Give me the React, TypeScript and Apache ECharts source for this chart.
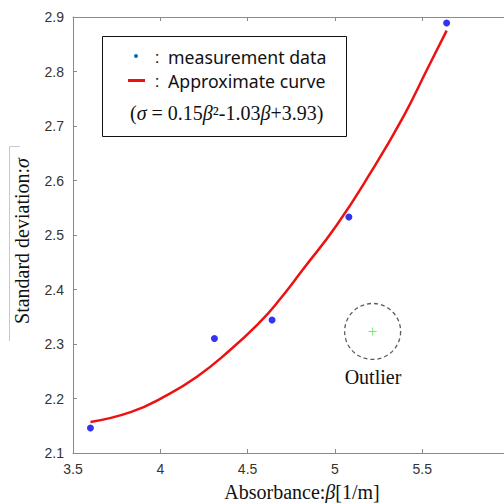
import React, { useEffect, useRef } from "react";
import * as echarts from "echarts";

const measBeta = [3.6, 4.31, 4.64, 5.08, 5.64];
const measSigma = [2.146, 2.31, 2.344, 2.533, 2.889];

const curveBeta = [3.6, 3.83, 4.02, 4.21, 4.4, 4.57, 4.67, 4.82, 5.01, 5.2, 5.39, 5.53, 5.64];
const curveSigma = [2.157, 2.175, 2.203, 2.24, 2.289, 2.34, 2.376, 2.438, 2.518, 2.612, 2.716, 2.805, 2.875];

const outlierBeta = [5.216];
const outlierSigma = [2.323];

const xLabelTitle = "{n|Absorbance:}{i|β}{n|[1/m]}";
const yLabelTitle = "{n|Standard deviation:}{i|σ}";
const legendRow1 = "measurement data";
const legendRow2 = "Approximate curve";
const formulaText = "{n|(}{i|σ}{n| = 0.15}{i|β}{n|²-1.03}{i|β}{n|+3.93)}";
const outlierText = "Outlier";

export default function App() {
  const ref = useRef<HTMLDivElement>(null);
  useEffect(() => {
    if (!ref.current) return;
    const chart = echarts.init(ref.current, null, { renderer: "svg" });
    const axisLineStyle = { color: "#8a8a8a", width: 1 };
    const sans = "Liberation Sans";
    const serif = "Liberation Serif";
    const richSerif = (size: number) => ({
      n: { fontFamily: serif, fontSize: size, fill: "#111" },
      i: { fontFamily: serif, fontSize: size, fontStyle: "italic", fill: "#111" },
    });
    chart.setOption({
      animation: false,
      backgroundColor: "#ffffff",
      grid: {
        left: 73,
        top: 17,
        bottom: 50,
        right: -5.5,
        containLabel: false,
        outerBoundsMode: "none",
      },
      xAxis: [
        {
          type: "value",
          min: 3.5,
          max: 6,
          interval: 0.5,
          position: "bottom",
          axisLine: { show: true, lineStyle: axisLineStyle },
          axisTick: { show: true, inside: true, length: 4, lineStyle: axisLineStyle },
          axisLabel: { color: "#333", fontSize: 14, fontFamily: sans, margin: 9, showMaxLabel: false },
          splitLine: { show: false },
        },
        {
          type: "value",
          min: 3.5,
          max: 6,
          interval: 0.5,
          position: "top",
          axisLine: { show: true, lineStyle: axisLineStyle },
          axisTick: { show: true, inside: true, length: 4, lineStyle: axisLineStyle },
          axisLabel: { show: false },
          splitLine: { show: false },
        },
      ],
      yAxis: [
        {
          type: "value",
          min: 2.1,
          max: 2.9,
          interval: 0.1,
          position: "left",
          axisLine: { show: true, lineStyle: axisLineStyle },
          axisTick: { show: true, inside: true, length: 4, lineStyle: axisLineStyle },
          axisLabel: {
            color: "#333",
            fontSize: 14,
            fontFamily: sans,
            margin: 9,
            formatter: (v: number) => v.toFixed(1),
          },
          splitLine: { show: false },
        },
        {
          type: "value",
          min: 2.1,
          max: 2.9,
          interval: 0.1,
          position: "right",
          axisLine: { show: true, lineStyle: axisLineStyle },
          axisTick: { show: true, inside: true, length: 4, lineStyle: axisLineStyle },
          axisLabel: { show: false },
          splitLine: { show: false },
        },
      ],
      series: [
        {
          type: "line",
          xAxisIndex: 0,
          yAxisIndex: 0,
          data: curveBeta.map((b, i) => [b, curveSigma[i]]),
          smooth: true,
          showSymbol: false,
          symbol: "none",
          lineStyle: { color: "#ee1111", width: 2.5 },
          z: 2,
        },
        {
          type: "scatter",
          xAxisIndex: 0,
          yAxisIndex: 0,
          data: measBeta.map((b, i) => [b, measSigma[i]]),
          symbol: "circle",
          symbolSize: 7,
          itemStyle: { color: "#0000ee" },
          z: 3,
        },
        {
          type: "scatter",
          xAxisIndex: 0,
          yAxisIndex: 0,
          data: outlierBeta.map((b, i) => [b, outlierSigma[i]]),
          symbol: "circle",
          symbolSize: 56,
          itemStyle: {
            color: "rgba(0,0,0,0)",
            borderColor: "#333",
            borderWidth: 1.3,
            borderType: [4, 3],
          },
          z: 3,
        },
        {
          type: "scatter",
          xAxisIndex: 0,
          yAxisIndex: 0,
          data: outlierBeta.map((b, i) => [b, outlierSigma[i]]),
          symbol:
            "path://M-0.12,-1H0.12V-0.12H1V0.12H0.12V1H-0.12V0.12H-1V-0.12H-0.12Z",
          symbolSize: 8,
          itemStyle: { color: "#55dd55" },
          z: 4,
        },
      ],
      graphic: [
        {
          type: "line",
          shape: { x1: 9.5, y1: 146.5, x2: 9.5, y2: 341 },
          style: { stroke: "#c8c8c8", lineWidth: 1 },
        },
        {
          type: "line",
          shape: { x1: 9.5, y1: 146.5, x2: 20, y2: 146.5 },
          style: { stroke: "#c8c8c8", lineWidth: 1 },
        },
        {
          type: "text",
          x: 22,
          y: 241,
          rotation: Math.PI / 2,
          style: {
            text: yLabelTitle,
            align: "center",
            verticalAlign: "middle",
            rich: richSerif(20),
          },
        },
        {
          type: "text",
          x: 302,
          y: 492,
          style: {
            text: xLabelTitle,
            align: "center",
            verticalAlign: "middle",
            rich: richSerif(20),
          },
        },
        {
          type: "rect",
          shape: { x: 102.5, y: 36.5, width: 244, height: 100 },
          style: { fill: "#fff", stroke: "#111", lineWidth: 1 },
          z: 10,
        },
        {
          type: "circle",
          shape: { cx: 136, cy: 56, r: 2 },
          style: { fill: "#0070c0" },
          z: 11,
        },
        {
          type: "line",
          shape: { x1: 128, y1: 80.5, x2: 145, y2: 80.5 },
          style: { stroke: "#ee1111", lineWidth: 3 },
          z: 11,
        },
        {
          type: "text",
          x: 157,
          y: 57,
          style: { text: ":", fontFamily: sans, fontSize: 17, fill: "#111", align: "center", verticalAlign: "middle" },
          z: 11,
        },
        {
          type: "text",
          x: 157,
          y: 81,
          style: { text: ":", fontFamily: sans, fontSize: 17, fill: "#111", align: "center", verticalAlign: "middle" },
          z: 11,
        },
        {
          type: "text",
          x: 168,
          y: 57,
          style: { text: legendRow1, fontFamily: "Noto Sans", fontSize: 17.7, fill: "#111", align: "left", verticalAlign: "middle" },
          z: 11,
        },
        {
          type: "text",
          x: 168,
          y: 81,
          style: { text: legendRow2, fontFamily: "Noto Sans", fontSize: 17.7, fill: "#111", align: "left", verticalAlign: "middle" },
          z: 11,
        },
        {
          type: "text",
          x: 130,
          y: 113,
          style: {
            text: formulaText,
            align: "left",
            verticalAlign: "middle",
            rich: richSerif(20),
          },
          z: 11,
        },
        {
          type: "text",
          x: 373,
          y: 377,
          style: {
            text: outlierText,
            fontFamily: serif,
            fontSize: 20,
            fill: "#111",
            align: "center",
            verticalAlign: "middle",
          },
        },
      ],
    });
    return () => chart.dispose();
  }, []);
  return (
    <div
      ref={ref}
      style={{ position: "absolute", left: 0, top: 0, width: 504, height: 503, overflow: "hidden" }}
    />
  );
}
